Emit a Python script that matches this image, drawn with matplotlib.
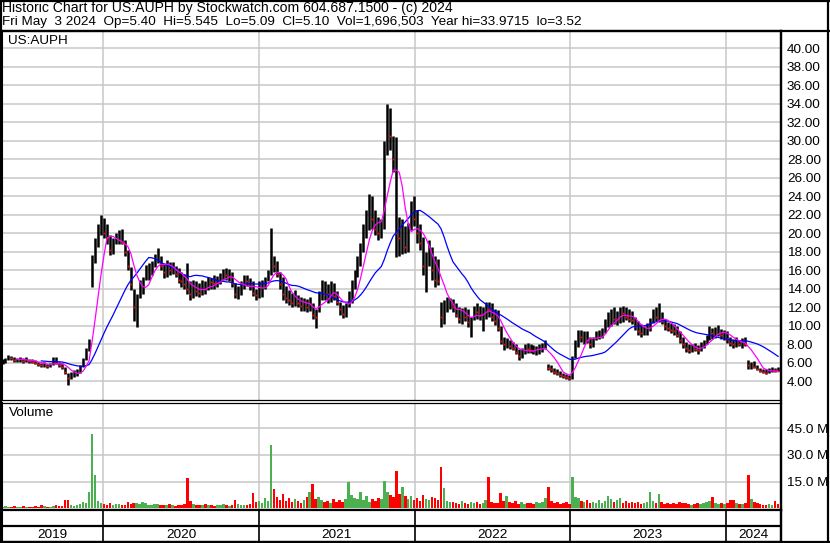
import matplotlib
matplotlib.use("Agg")
import matplotlib.pyplot as plt
from matplotlib.lines import Line2D
import numpy as np
import pandas as pd

plt.rcParams['font.family'] = ['Liberation Sans', 'DejaVu Sans']

# weekly bars (Fridays), May 2019 .. May 3 2024
weeks = pd.date_range('2019-05-10', '2024-05-03', freq='W-FRI')

high = [6.4, 6.5, 6.9, 6.8, 6.6, 6.5, 6.6, 6.5, 6.6, 6.4,
        6.4, 6.3, 6.1, 6.0, 6.1, 5.9, 6.0, 6.6, 6.6, 6.1,
        6.0, 5.6, 4.9, 5.0, 5.2, 5.3, 5.8, 6.5, 7.6, 8.6,
        17.7, 19.5, 21.0, 22.0, 21.7, 21.0, 19.8, 19.5, 20.0, 20.4,
        20.5, 19.3, 18.2, 16.4, 14.0, 13.5, 15.0, 15.3, 16.6, 16.8,
        17.0, 17.8, 18.4, 17.6, 16.8, 17.1, 16.9, 16.9, 16.5, 16.3,
        15.8, 15.6, 16.8, 14.8, 15.0, 14.8, 14.6, 15.0, 14.8, 15.3,
        15.2, 15.5, 15.4, 15.7, 16.2, 16.3, 16.1, 15.8, 14.6, 14.3,
        14.8, 15.5, 15.5, 15.2, 14.8, 14.0, 14.8, 15.0, 15.3, 16.0,
        20.6, 17.5, 17.0, 15.8, 15.3, 14.3, 13.9, 13.6, 13.9, 13.3,
        13.1, 13.0, 12.9, 13.1, 12.5, 11.8, 13.8, 15.0, 14.8, 14.5,
        14.8, 14.6, 13.8, 12.6, 12.3, 12.5, 13.8, 15.0, 16.0, 17.5,
        19.0, 21.0, 22.5, 24.2, 24.0, 22.5, 21.8, 21.5, 30.0, 34.0,
        33.5, 30.5, 30.4, 21.8, 21.5, 20.8, 21.1, 23.5, 24.0, 22.5,
        21.0, 19.6, 18.0, 19.3, 18.5, 17.5, 17.2, 12.6, 12.8, 13.1,
        13.0, 12.9, 12.5, 12.0, 11.9, 12.0, 11.8, 11.0, 12.2, 12.5,
        12.2, 12.0, 12.6, 12.6, 12.5, 11.8, 11.7, 10.0, 8.8, 8.7,
        8.5, 8.3, 8.0, 7.5, 7.6, 8.0, 8.2, 8.0, 7.9, 7.8,
        8.0, 8.2, 8.5, 5.9, 5.8, 5.5, 5.3, 5.1, 4.9, 4.8,
        4.7, 6.8, 8.5, 9.6, 9.6, 9.5, 9.4, 8.8, 8.8, 9.5,
        9.6, 9.8, 10.8, 11.5, 11.8, 12.0, 11.6, 12.0, 12.1, 12.0,
        11.8, 11.6, 11.0, 10.5, 10.2, 10.0, 10.3, 10.9, 11.8, 12.0,
        12.5, 11.5, 10.8, 10.4, 10.3, 10.2, 10.0, 9.4, 8.8, 8.3,
        8.0, 8.0, 8.2, 7.9, 8.3, 8.5, 9.0, 10.0, 9.8, 9.9,
        10.1, 9.7, 9.6, 9.4, 8.8, 8.6, 8.8, 8.5, 8.7, 8.8,
        6.3, 6.1, 6.2, 5.8, 5.5, 5.3, 5.3, 5.5, 5.6, 5.5, 5.545]

low = [5.9, 6.0, 6.3, 6.3, 6.1, 6.1, 6.1, 6.0, 6.1, 6.0,
       6.0, 5.9, 5.7, 5.6, 5.6, 5.5, 5.6, 5.8, 5.9, 5.6,
       5.4, 4.8, 3.6, 4.3, 4.5, 4.6, 4.9, 5.6, 6.3, 7.3,
       14.2, 16.8, 18.5, 19.8, 19.5, 18.8, 17.7, 17.8, 18.8, 18.8,
       18.8, 17.5, 16.0, 13.9, 10.5, 9.9, 13.0, 13.5, 15.0, 15.0,
       15.5, 16.4, 16.8, 16.0, 15.2, 15.3, 15.5, 15.6, 15.3, 14.6,
       14.2, 14.0, 13.5, 12.8, 13.0, 13.2, 13.1, 13.3, 13.5, 13.9,
       14.0, 14.0, 14.2, 14.5, 15.0, 15.0, 14.9, 14.2, 13.0, 12.9,
       13.3, 14.0, 14.3, 13.9, 13.2, 12.8, 13.0, 13.1, 14.0, 14.8,
       15.5, 15.8, 15.3, 14.0, 12.8, 12.5, 12.3, 12.0, 12.2, 12.0,
       11.6, 11.6, 11.5, 11.6, 10.8, 9.8, 11.5, 12.8, 12.8, 12.5,
       12.6, 12.8, 12.3, 11.2, 10.9, 11.0, 12.0, 12.5, 14.0, 15.3,
       16.5, 18.0, 19.5, 20.4, 20.5, 19.8, 19.3, 19.5, 20.5, 28.5,
       29.0, 26.6, 17.4, 17.5, 17.8, 17.9, 18.0, 20.4, 20.8, 19.0,
       18.2, 15.5, 13.7, 16.5, 15.0, 14.2, 14.4, 9.9, 10.2, 11.5,
       11.8, 11.5, 11.0, 10.3, 10.2, 10.5, 9.9, 8.8, 10.6, 10.8,
       10.6, 9.4, 10.8, 11.0, 10.5, 10.1, 9.5, 8.0, 7.4, 7.6,
       7.5, 7.4, 7.0, 6.3, 6.5, 7.0, 7.1, 7.1, 7.0, 6.9,
       7.0, 7.2, 7.5, 5.2, 5.0, 4.8, 4.7, 4.5, 4.4, 4.3,
       4.2, 4.3, 6.5, 7.7, 8.3, 8.1, 8.2, 7.6, 7.7, 8.5,
       8.6, 8.7, 9.2, 9.9, 10.0, 10.2, 10.1, 10.3, 10.4, 10.6,
       10.4, 10.2, 9.6, 9.0, 8.8, 9.0, 9.0, 9.5, 10.3, 10.5,
       10.4, 10.2, 9.6, 9.4, 9.2, 9.0, 8.8, 8.2, 7.6, 7.2,
       7.1, 7.2, 7.3, 7.0, 7.3, 7.6, 8.0, 8.5, 8.6, 8.7,
       8.9, 8.6, 8.5, 8.2, 7.8, 7.6, 7.7, 7.8, 7.6, 7.8,
       5.3, 5.4, 5.5, 5.2, 5.0, 4.9, 4.8, 4.9, 5.0, 5.0, 5.09]

close = [6.2, 6.3, 6.6, 6.5, 6.3, 6.3, 6.4, 6.2, 6.3, 6.2,
         6.1, 6.0, 5.9, 5.8, 5.8, 5.7, 5.8, 6.4, 6.0, 5.8,
         5.6, 5.0, 4.4, 4.6, 4.8, 5.0, 5.6, 6.3, 7.4, 8.3,
         17.0, 19.0, 20.5, 20.8, 20.0, 19.5, 18.2, 19.0, 19.4, 19.6,
         19.0, 18.0, 16.5, 14.5, 12.0, 13.0, 14.5, 15.0, 16.0, 16.2,
         16.5, 17.2, 17.5, 16.5, 15.8, 16.6, 16.0, 16.2, 15.6, 15.0,
         14.8, 14.5, 14.0, 13.5, 14.2, 13.8, 13.6, 14.5, 14.0, 14.8,
         14.7, 14.6, 15.0, 15.2, 15.6, 15.5, 15.8, 14.6, 13.5, 13.6,
         14.4, 15.0, 14.8, 14.3, 13.6, 13.3, 14.0, 14.6, 15.0, 15.5,
         17.5, 16.5, 15.6, 14.5, 13.5, 13.0, 12.8, 12.5, 13.2, 12.5,
         12.2, 12.4, 12.0, 12.2, 11.2, 11.0, 13.2, 14.2, 13.5, 13.4,
         14.0, 13.2, 12.6, 11.8, 11.3, 12.0, 13.2, 14.5, 15.5, 17.0,
         18.5, 20.5, 21.5, 23.0, 21.5, 20.5, 20.0, 21.0, 29.0, 32.5,
         30.5, 28.0, 20.0, 19.5, 20.0, 18.5, 20.5, 22.5, 21.5, 20.0,
         19.0, 16.5, 17.0, 18.0, 16.0, 15.0, 14.8, 11.0, 12.0, 12.3,
         12.4, 12.0, 11.2, 10.8, 11.5, 11.0, 10.4, 10.6, 11.8, 11.5,
         11.2, 11.5, 12.0, 11.8, 11.0, 10.5, 9.8, 8.4, 8.0, 8.1,
         7.8, 7.6, 7.2, 6.8, 7.2, 7.6, 7.5, 7.4, 7.3, 7.4,
         7.6, 7.9, 7.9, 5.5, 5.3, 5.0, 4.9, 4.7, 4.6, 4.5,
         4.4, 6.5, 8.2, 9.0, 8.8, 9.2, 8.5, 8.0, 8.5, 9.0,
         9.2, 9.4, 10.4, 10.8, 11.2, 10.8, 11.0, 11.5, 11.4, 11.0,
         10.8, 10.6, 10.0, 9.4, 9.2, 9.5, 9.8, 10.5, 11.2, 11.0,
         11.2, 10.5, 10.0, 9.8, 9.6, 9.4, 9.0, 8.5, 8.0, 7.6,
         7.4, 7.6, 7.5, 7.4, 8.0, 8.2, 8.8, 9.4, 9.2, 9.5,
         9.6, 9.0, 9.2, 8.6, 8.2, 8.0, 8.4, 8.0, 8.3, 8.1,
         5.8, 5.9, 5.6, 5.3, 5.1, 5.0, 4.9, 5.2, 5.3, 5.2, 5.10]

# volume in millions of shares
volume = [0.8, 1.0, 0.7, 0.9, 1.2, 0.8, 0.6, 1.0, 0.9, 0.7,
          0.8, 1.1, 0.9, 1.6, 1.0, 0.8, 0.9, 1.3, 2.0, 1.2,
          1.4, 4.8, 4.8, 2.0, 1.5, 1.8, 2.6, 3.8, 3.0, 9.4,
          41.7, 18.6, 4.0, 3.2, 2.5, 2.0, 3.0, 1.8, 2.2, 2.6,
          1.6, 2.0, 3.6, 2.4, 3.0, 2.8, 2.2, 3.4, 2.8, 2.0,
          1.8, 2.6, 2.2, 1.6, 2.0, 1.8, 2.4, 1.6, 1.4, 2.0,
          1.8, 2.4, 17.0, 4.0, 2.6, 2.0, 1.6, 1.8, 2.2, 1.6,
          1.8, 1.4, 2.0, 1.8, 2.2, 1.6, 1.4, 1.8, 4.5, 2.2,
          1.6, 2.0, 1.8, 2.4, 8.8, 3.6, 4.2, 3.0, 5.5, 4.0,
          35.4, 11.0, 6.5, 4.8, 8.0, 4.2, 6.0, 3.5, 5.2, 4.0,
          3.2, 4.5, 6.2, 9.4, 13.6, 5.0, 6.4, 4.8, 3.5, 4.0,
          3.2, 5.2, 3.6, 4.5, 3.8, 5.0, 14.6, 7.3, 6.0, 5.2,
          9.0, 4.4, 6.8, 3.8, 5.2, 4.0, 6.0, 5.0, 15.2, 9.0,
          7.4, 6.2, 21.0, 8.0, 11.9, 7.0, 5.0, 6.8, 4.5, 5.5,
          4.0, 7.5, 5.2, 4.4, 6.2, 5.6, 4.8, 23.3, 11.2, 4.2,
          3.8, 3.4, 3.0, 2.6, 4.0, 3.2, 2.4, 3.8, 2.8, 3.4,
          2.6, 3.0, 4.4, 17.5, 3.6, 2.8, 3.2, 8.8, 4.0, 7.0,
          3.6, 3.0, 4.0, 2.6, 3.4, 2.4, 3.0, 3.0, 2.6, 3.8,
          2.8, 3.4, 5.8, 11.9, 4.0, 3.2, 3.6, 2.6, 3.0, 3.4,
          2.4, 17.5, 6.4, 6.0, 4.2, 3.6, 4.8, 3.0, 3.8, 2.8,
          4.4, 3.2, 4.0, 7.0, 5.0, 3.6, 4.4, 5.8, 3.2, 4.0,
          3.0, 3.6, 2.8, 3.4, 2.6, 3.0, 3.6, 9.0, 4.2, 3.0,
          8.0, 3.4, 2.6, 3.2, 2.4, 3.0, 2.2, 3.6, 2.8, 3.2,
          2.4, 2.0, 2.6, 3.0, 2.2, 2.8, 3.4, 4.0, 6.6, 3.0,
          2.6, 3.2, 2.4, 3.0, 4.8, 4.6, 3.2, 2.6, 2.2, 3.0,
          18.6, 5.4, 3.6, 2.8, 2.4, 2.0, 1.8, 2.4, 2.0, 4.0, 2.2]

years = ['2019', '2020', '2021', '2022', '2023', '2024']
price_ticks = list(range(4, 41, 2))
vol_ticks = [15, 30, 45]
title1 = "Historic Chart for US:AUPH by Stockwatch.com 604.687.1500 - (c) 2024"
title2 = ("Fri May  3 2024  Op=5.40  Hi=5.545  Lo=5.09  Cl=5.10  "
          "Vol=1,696,503  Year hi=33.9715  lo=3.52")

W, H = 830, 543
FS = 9.7
GRID = '#c8c8c8'


def fx(px):
    return px / W


def fy(py):
    return 1 - py / H


fig = plt.figure(figsize=(W / 100, H / 100), dpi=100)
fig.patch.set_facecolor('white')

x0, x1 = 2, 781
ax = fig.add_axes([fx(x0), fy(400), fx(x1 - x0), (400 - 31) / H])
axv = fig.add_axes([fx(x0), fy(509.5), fx(x1 - x0), (509.5 - 402.5) / H])
axd = fig.add_axes([fx(x0), fy(541.5), fx(x1 - x0), (541.5 - 509.5) / H])

xmin = pd.Timestamp('2019-05-08 19:00')
xmax = pd.Timestamp('2024-05-09 19:00')
year_starts = [pd.Timestamp(f'{y}-01-01') for y in years[1:]]

# ---- price panel
close_s = pd.Series(close, index=weeks)
ma_fast = close_s.rolling(6).mean()
ma_slow = close_s.rolling(20, min_periods=14).mean()
down = [i > 0 and close[i] < close[i - 1] for i in range(len(close))]

ax.vlines(weeks, low, high, color='black', lw=1.8, zorder=2)
ax.plot(weeks[down], np.array(close)[down], ls='none', marker='s',
        ms=1.3, color='red', mew=0, zorder=2.5)
ax.plot(weeks, ma_slow, color='#0000ff', lw=0.9, zorder=3)
ax.plot(weeks, ma_fast, color='#ff00ff', lw=0.9, zorder=3)

ax.set_xlim(xmin, xmax)
ax.set_ylim(2.0, 41.85)
ax.set_yticks(price_ticks)
ax.set_yticklabels([f'{t:.2f}' for t in price_ticks])
ax.yaxis.tick_right()
ax.set_xticks(year_starts)
ax.tick_params(axis='x', length=0, labelbottom=False)
ax.tick_params(axis='y', length=0, pad=4.2, labelsize=FS)
ax.grid(True, color=GRID, lw=1.1, zorder=0)
ax.set_axisbelow(True)
ax.text(fx(8), fy(41.5), 'US:AUPH', transform=fig.transFigure,
        fontsize=FS, va='center', ha='left')

# ---- volume panel
colors = ['#ff0000' if d else '#4caf50' for d in down]
axv.bar(weeks, volume, width=6, color=colors, zorder=2, linewidth=0)
axv.set_xlim(xmin, xmax)
axv.set_ylim(-0.7, 59.5)
axv.set_yticks(vol_ticks)
axv.set_yticklabels([f'{v:.1f} M' for v in vol_ticks])
axv.yaxis.tick_right()
axv.set_xticks(year_starts)
axv.tick_params(axis='x', length=0, labelbottom=False)
axv.tick_params(axis='y', length=0, pad=4.2, labelsize=FS)
axv.grid(True, color=GRID, lw=1.1, zorder=0)
axv.set_axisbelow(True)
axv.text(fx(9), fy(413.5), 'Volume', transform=fig.transFigure,
         fontsize=FS, va='center', ha='left')

# ---- date band
axd.set_xlim(xmin, xmax)
axd.set_ylim(0, 1)
axd.set_xticks([])
axd.set_yticks([])
axd.axhline(0.5, color='black', lw=1.6)
axd.vlines(year_starts, 0, 1, color='black', lw=1.2)
bounds = [xmin] + year_starts + [xmax]
for i, y in enumerate(years):
    mid = bounds[i] + (bounds[i + 1] - bounds[i]) / 2
    axd.text(mid, 0.2, y, ha='center', va='center', fontsize=FS)

for a in (ax, axv, axd):
    for side in ('left', 'right', 'top', 'bottom'):
        a.spines[side].set_color('black')
    a.spines['left'].set_linewidth(1.5)
    a.spines['right'].set_linewidth(1.6)
ax.spines['top'].set_linewidth(1.6)
ax.spines['bottom'].set_linewidth(0.9)
axv.spines['top'].set_linewidth(0.9)
axv.spines['bottom'].set_linewidth(1.6)
axd.spines['top'].set_linewidth(1.6)
axd.spines['bottom'].set_linewidth(1.6)

# ---- header and outer frame
fig.text(fx(2), fy(8), title1, fontsize=10.05, va='center', ha='left')
fig.text(fx(2), fy(22.5), title2, fontsize=FS, va='center', ha='left')
frame = [((0.7, 0.7), (0, H)), ((0, W), (H - 0.7, H - 0.7)),
         ((W - 2, W - 2), (0, H)), ((0, W), (1.2, 1.2)),
         ((0, W), (H - 30.5, H - 30.5)), ((x1, x1), (1.5, H - 31))]
for xs, ys in frame:
    fig.add_artist(Line2D([fx(v) for v in xs], [v / H for v in ys],
                          transform=fig.transFigure, color='black', lw=1.6))

fig.savefig('out.png', dpi=100, facecolor='white')
